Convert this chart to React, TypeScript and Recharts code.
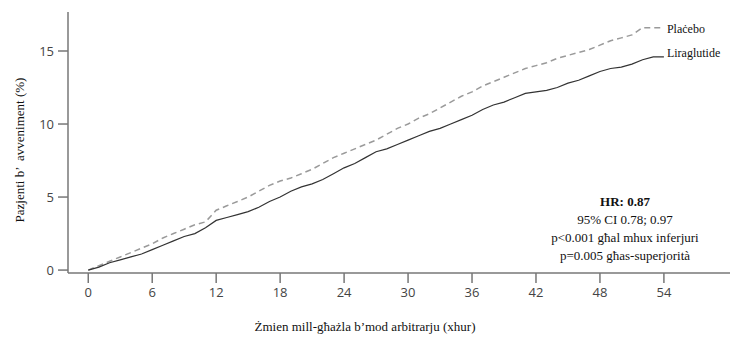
import React from 'react';
import { Customized, LabelList, Line, LineChart, XAxis, YAxis } from 'recharts';

const months = [
  0, 1, 2, 3, 4, 5, 6, 7, 8, 9, 10, 11, 12, 13, 14, 15, 16, 17, 18, 19, 20, 21, 22, 23, 24, 25, 26,
  27, 28, 29, 30, 31, 32, 33, 34, 35, 36, 37, 38, 39, 40, 41, 42, 43, 44, 45, 46, 47, 48, 49, 50, 51,
  52, 53, 54,
];

const liraglutide = [
  0, 0.2, 0.5, 0.7, 0.9, 1.1, 1.4, 1.7, 2.0, 2.3, 2.5, 2.9, 3.4, 3.6, 3.8, 4.0, 4.3, 4.7, 5.0, 5.4,
  5.7, 5.9, 6.2, 6.6, 7.0, 7.3, 7.7, 8.1, 8.3, 8.6, 8.9, 9.2, 9.5, 9.7, 10.0, 10.3, 10.6, 11.0, 11.3,
  11.5, 11.8, 12.1, 12.2, 12.3, 12.5, 12.8, 13.0, 13.3, 13.6, 13.8, 13.9, 14.1, 14.4, 14.6, 14.6,
];

const placebo = [
  0, 0.3, 0.6, 0.9, 1.2, 1.5, 1.8, 2.2, 2.5, 2.8, 3.1, 3.3, 4.1, 4.4, 4.7, 5.0, 5.4, 5.8, 6.1, 6.3,
  6.6, 6.9, 7.3, 7.7, 8.0, 8.3, 8.6, 8.9, 9.3, 9.7, 10.0, 10.4, 10.7, 11.1, 11.5, 11.9, 12.2, 12.6,
  12.9, 13.2, 13.5, 13.8, 14.0, 14.2, 14.5, 14.7, 14.9, 15.1, 15.4, 15.7, 15.9, 16.1, 16.6, 16.6, 16.6,
];

const xTicks = [0, 6, 12, 18, 24, 30, 36, 42, 48, 54];
const yTicks = [0, 5, 10, 15];

const statsLines = ['95% CI 0.78; 0.97', 'p<0.001 għal mhux inferjuri', 'p=0.005 għas-superjorità'];

const data = months.map((m, i) => ({ month: m, lira: liraglutide[i], placebo: placebo[i] }));

const serif = { fontFamily: "'Liberation Serif', serif" };
const sans = { fontFamily: "'Open Sans', sans-serif", fontSize: 13, fill: '#444' };
const axisColor = '#777';

// name at the end of each curve
const endLabel = (name: string, dy: number) => (props: any) => {
  if (props.index !== data.length - 1) return null;
  return (
    <text x={props.x + 3} y={props.y + dy} style={serif} fontSize={12} fill="#111" dominantBaseline="middle">
      {name}
    </text>
  );
};

const Titles = () => (
  <g fill="#111">
    <text x={365} y={331} textAnchor="middle" fontSize={13} style={serif}>
      Żmien mill-għażla b’mod arbitrarju (xhur)
    </text>
    <text x={24} y={150} textAnchor="middle" fontSize={13} style={{ ...serif, whiteSpace: 'pre' }} transform="rotate(-90 24 150)">
      Pazjenti b’  avveniment (%)
    </text>
    <text x={625} y={206} textAnchor="middle" fontSize={13} fontWeight="bold" style={serif}>
      HR: 0.87
    </text>
    {statsLines.map((s, i) => (
      <text key={s} x={625} y={224 + i * 18} textAnchor="middle" fontSize={13} style={serif}>
        {s}
      </text>
    ))}
  </g>
);

export default function App() {
  return (
    <div style={{ position: 'absolute', left: 0, top: 0, width: 730, height: 338, background: '#fff' }}>
      <LineChart width={730} height={338} data={data} margin={{ top: 12, right: 0, bottom: 35, left: 8 }}>
        <XAxis
          dataKey="month"
          type="number"
          domain={[-1.9, 60.2]}
          ticks={xTicks}
          allowDataOverflow
          height={30}
          tickSize={10}
          tickMargin={5}
          stroke={axisColor}
          strokeWidth={1.5}
          tick={sans}
        />
        <XAxis xAxisId="top" orientation="top" dataKey="month" type="number" domain={[-1.9, 60.2]} height={0} tick={false} tickLine={false} stroke={axisColor} strokeWidth={1.5} />
        <YAxis
          type="number"
          domain={[-0.2, 17.67]}
          ticks={yTicks}
          allowDataOverflow
          width={60}
          tickSize={10}
          tickMargin={4}
          stroke={axisColor}
          strokeWidth={1.5}
          tick={sans}
        />
        <Line
          type="linear"
          dataKey="placebo"
          stroke="#9a9a9a"
          strokeWidth={1.5}
          strokeDasharray="6 4"
          dot={false}
          isAnimationActive={false}
        >
          <LabelList dataKey="placebo" content={endLabel('Plaċebo', 3)} />
        </Line>
        <Line type="linear" dataKey="lira" stroke="#333" strokeWidth={1.2} dot={false} isAnimationActive={false}>
          <LabelList dataKey="lira" content={endLabel('Liraglutide', -3)} />
        </Line>
        <Customized component={Titles} />
      </LineChart>
    </div>
  );
}
